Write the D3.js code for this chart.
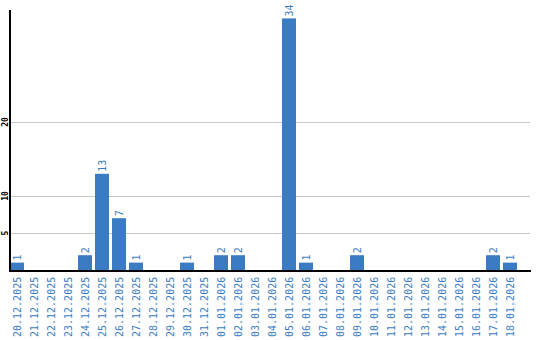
<!DOCTYPE html>
<html>
<head>
<meta charset="utf-8">
<script src="https://cdn.jsdelivr.net/npm/d3@7"></script>
<style>
  body { margin: 0; background: #fff; }
  svg text { font-family: "DejaVu Sans Mono", monospace; }
</style>
</head>
<body>
<script>
var dates = ["20.12.2025", "21.12.2025", "22.12.2025", "23.12.2025", "24.12.2025",
  "25.12.2025", "26.12.2025", "27.12.2025", "28.12.2025", "29.12.2025",
  "30.12.2025", "31.12.2025", "01.01.2026", "02.01.2026", "03.01.2026",
  "04.01.2026", "05.01.2026", "06.01.2026", "07.01.2026", "08.01.2026",
  "09.01.2026", "10.01.2026", "11.01.2026", "12.01.2026", "13.01.2026",
  "14.01.2026", "15.01.2026", "16.01.2026", "17.01.2026", "18.01.2026"];
var counts = [1, 0, 0, 0, 2, 13, 7, 1, 0, 0,
  1, 0, 2, 2, 0, 0, 34, 1, 0, 0,
  2, 0, 0, 0, 0, 0, 0, 0, 2, 1];
var yTicks = [5, 10, 20];

var w = 540, h = 340;
var left = 10, right = 530, base = 270;
var blue = "#3a7cc3";

var svg = d3.select("body").append("svg")
  .attr("width", w)
  .attr("height", h);

var x = d3.scaleBand()
  .domain(dates)
  .range([left, 517])
  .paddingInner(3 / 17)
  .paddingOuter(0);

var y = d3.scaleLinear()
  .domain([0, 35])
  .range([base, base - 35 * 7.4]);

var bars = dates.map(function (d, i) { return { date: d, v: counts[i] }; })
  .filter(function (d) { return d.v > 0; });

// gridlines
svg.append("g")
  .selectAll("line")
  .data(yTicks)
  .enter()
  .append("line")
  .attr("x1", left)
  .attr("x2", right)
  .attr("y1", function (d) { return Math.round(y(d)) + 0.5; })
  .attr("y2", function (d) { return Math.round(y(d)) + 0.5; })
  .attr("stroke", "#c8c8c8");

// y tick labels
svg.append("g")
  .selectAll("text")
  .data(yTicks)
  .enter()
  .append("text")
  .attr("transform", function (d) {
    return "translate(8," + y(d) + ") rotate(-90)";
  })
  .attr("text-anchor", "middle")
  .style("font-size", "8px")
  .style("font-weight", "bold")
  .attr("fill", "#000")
  .text(function (d) { return d; });

// bars
svg.append("g")
  .selectAll("rect")
  .data(bars)
  .enter()
  .append("rect")
  .attr("x", function (d) { return x(d.date); })
  .attr("y", function (d) { return y(d.v); })
  .attr("width", x.bandwidth())
  .attr("height", function (d) { return base - y(d.v); })
  .attr("fill", blue);

// value labels
svg.append("g")
  .selectAll("text")
  .data(bars)
  .enter()
  .append("text")
  .attr("transform", function (d) {
    return "translate(" + (x(d.date) + x.bandwidth() / 2 + 4) + "," + (y(d.v) - 2) + ") rotate(-90)";
  })
  .style("font-size", "10px")
  .attr("fill", blue)
  .text(function (d) { return d.v; });

// axis lines
svg.append("line")
  .attr("x1", left).attr("x2", left)
  .attr("y1", 10).attr("y2", base + 1)
  .attr("stroke", "#000").attr("stroke-width", 2);
svg.append("line")
  .attr("x1", left - 1).attr("x2", right + 1)
  .attr("y1", base + 1).attr("y2", base + 1)
  .attr("stroke", "#000").attr("stroke-width", 2);

// date labels
svg.append("g")
  .selectAll("text")
  .data(dates)
  .enter()
  .append("text")
  .attr("transform", function (d) {
    return "translate(" + (x(d) + x.bandwidth() / 2 + 4) + ",337) rotate(-90)";
  })
  .style("font-size", "10px")
  .attr("fill", blue)
  .text(function (d) { return d; });
</script>
</body>
</html>
